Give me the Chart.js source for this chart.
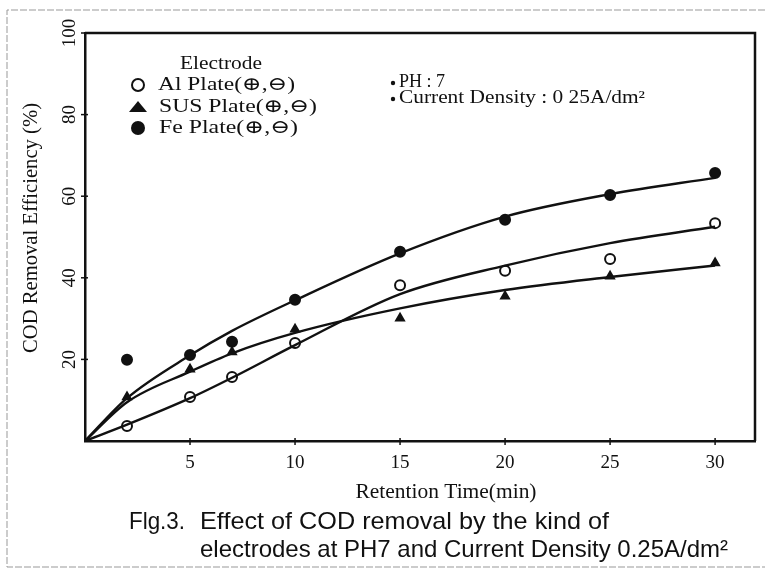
<!DOCTYPE html>
<html><head><meta charset="utf-8">
<script src="https://cdn.jsdelivr.net/npm/chart.js@4.4.1/dist/chart.umd.min.js"></script>
<style>html,body{margin:0;padding:0;background:#fff;}#wrap{width:765px;height:577px;position:relative;}</style>
</head><body><div id="wrap"><canvas id="c" width="765" height="577"></canvas></div>
<script>
// ---- data ----
const times = [2, 5, 7, 10, 15, 20, 25, 30];
const alValues  = [3.7, 10.8, 15.7, 24.0, 38.2, 41.7, 44.6, 53.4];
const susValues = [10.8, 17.6, 21.8, 27.4, 30.1, 35.5, 40.4, 43.6];
const feValues  = [19.9, 21.1, 24.3, 34.6, 46.4, 54.2, 60.3, 65.7];

// fitted curves
const curveTimes = [0, 2, 5, 7, 10, 15, 20, 25, 30];
const alFit  = [0, 4.0, 10.5, 15.5, 23.5, 36.0, 43.0, 48.5, 52.5];
const susFit = [0, 9.5, 17.0, 21.5, 26.5, 32.5, 37.0, 40.2, 43.0];
const feFit  = [0, 10.5, 21.0, 27.0, 34.5, 46.0, 55.0, 60.5, 64.5];

const xTickValues = [5, 10, 15, 20, 25, 30];
const yTickValues = [20, 40, 60, 80, 100];

const legendTitle = 'Electrode';
const seriesNames = ['Al Plate(⊕,⊖)', 'SUS Plate(⊕,⊖)', 'Fe Plate(⊕,⊖)'];
const conditions = ['PH : 7', 'Current Density : 0 25A/dm²'];
const xTitle = 'Retention Time(min)';
const yTitle = 'COD Removal Efficiency (%)';
const captionLabel = 'Flg.3.';
const captionLines = ['Effect of COD removal by the kind of', 'electrodes at PH7 and Current Density 0.25A/dm²'];

// ---- helpers ----
const INK = '#111';
const SERIF = "'Liberation Serif','DejaVu Serif',serif";
const SANS = "'Liberation Sans','DejaVu Sans',sans-serif";
const pts = (xs, ys) => xs.map((x, i) => ({x: x, y: ys[i]}));

function fitText(ctx, text, x, y, w, font, align) {
  ctx.save();
  ctx.font = font;
  const m = ctx.measureText(text).width;
  ctx.translate(x, y);
  ctx.scale(w / m, 1);
  ctx.textAlign = align || 'left';
  ctx.textBaseline = 'middle';
  ctx.fillText(text, 0, 0);
  ctx.restore();
}

const decor = {
  id: 'decor',
  afterDraw(chart) {
    const ctx = chart.ctx, xs = chart.scales.x, ys = chart.scales.y, a = chart.chartArea;
    ctx.save();
    ctx.fillStyle = INK; ctx.strokeStyle = INK;
    // outer figure frame
    ctx.strokeStyle = '#999'; ctx.lineWidth = 1; ctx.setLineDash([7, 2]);
    ctx.beginPath();
    ctx.moveTo(765, 10); ctx.lineTo(7, 10); ctx.lineTo(7, 567); ctx.lineTo(765, 567);
    ctx.stroke();
    ctx.setLineDash([]);
    // plot box: top and right
    ctx.strokeStyle = INK; ctx.lineWidth = 2.5;
    ctx.beginPath();
    ctx.moveTo(a.left, a.top); ctx.lineTo(a.right, a.top); ctx.lineTo(a.right, a.bottom);
    ctx.stroke();
    // tick marks (crossing the axes)
    ctx.lineWidth = 1.5;
    xTickValues.forEach(v => {
      const p = xs.getPixelForValue(v);
      ctx.beginPath(); ctx.moveTo(p, a.bottom - 3); ctx.lineTo(p, a.bottom + 4); ctx.stroke();
    });
    yTickValues.forEach(v => {
      const p = ys.getPixelForValue(v);
      ctx.beginPath(); ctx.moveTo(a.left - 4, p); ctx.lineTo(a.left + 3, p); ctx.stroke();
    });
    // tick labels
    ctx.font = '19px ' + SERIF;
    ctx.textAlign = 'center'; ctx.textBaseline = 'middle';
    xTickValues.forEach(v => {
      ctx.fillText(String(v), xs.getPixelForValue(v), a.bottom + 22);
    });
    yTickValues.forEach(v => {
      ctx.save();
      ctx.translate(a.left - 15, ys.getPixelForValue(v));
      ctx.rotate(-Math.PI / 2);
      ctx.fillText(String(v), 0, 0);
      ctx.restore();
    });
    // axis titles
    fitText(ctx, xTitle, 446, 493, 181, '20px ' + SERIF, 'center');
    ctx.save();
    ctx.translate(32, 228);
    ctx.rotate(-Math.PI / 2);
    fitText(ctx, yTitle, 0, 0, 250, '20px ' + SERIF, 'center');
    ctx.restore();
    // legend
    fitText(ctx, legendTitle, 180, 64, 82, '19px ' + SERIF, 'left');
    ctx.lineWidth = 2;
    ctx.beginPath(); ctx.arc(138, 85, 6, 0, Math.PI * 2); ctx.stroke();
    ctx.beginPath(); ctx.moveTo(138, 101); ctx.lineTo(147, 112); ctx.lineTo(129, 112); ctx.closePath(); ctx.fill();
    ctx.beginPath(); ctx.arc(138, 128, 7, 0, Math.PI * 2); ctx.fill();
    fitText(ctx, seriesNames[0], 158, 85, 137, '19px ' + SERIF, 'left');
    fitText(ctx, seriesNames[1], 159, 107, 158, '19px ' + SERIF, 'left');
    fitText(ctx, seriesNames[2], 159, 128, 139, '19px ' + SERIF, 'left');
    // conditions
    ctx.beginPath(); ctx.arc(393, 83, 2.2, 0, Math.PI * 2); ctx.fill();
    ctx.beginPath(); ctx.arc(393, 99, 2.2, 0, Math.PI * 2); ctx.fill();
    fitText(ctx, conditions[0], 399, 82, 46, '18px ' + SERIF, 'left');
    fitText(ctx, conditions[1], 399, 98, 246, '18px ' + SERIF, 'left');
    // caption
    fitText(ctx, captionLabel, 129, 522, 56, '24px ' + SANS, 'left');
    fitText(ctx, captionLines[0], 200, 522, 409, '24px ' + SANS, 'left');
    fitText(ctx, captionLines[1], 200, 550, 528, '24px ' + SANS, 'left');
    ctx.restore();
  }
};

const lineStyle = {showLine: true, pointRadius: 0, borderColor: INK, borderWidth: 2.4,
  cubicInterpolationMode: 'monotone', fill: false};
const markStyle = {showLine: false, borderColor: INK, pointBorderWidth: 2};

new Chart(document.getElementById('c'), {
  type: 'scatter',
  data: {
    datasets: [
      Object.assign({label: 'Al fit', data: pts(curveTimes, alFit)}, lineStyle),
      Object.assign({label: 'SUS fit', data: pts(curveTimes, susFit)}, lineStyle),
      Object.assign({label: 'Fe fit', data: pts(curveTimes, feFit)}, lineStyle),
      Object.assign({label: seriesNames[0], data: pts(times, alValues), pointStyle: 'circle',
        pointRadius: 5, backgroundColor: '#fff', pointBackgroundColor: '#fff'}, markStyle),
      Object.assign({label: seriesNames[1], data: pts(times, susValues), pointStyle: 'triangle',
        pointRadius: 4.5, backgroundColor: INK, pointBackgroundColor: INK, pointBorderWidth: 1}, markStyle),
      Object.assign({label: seriesNames[2], data: pts(times, feValues), pointStyle: 'circle',
        pointRadius: 5, backgroundColor: INK, pointBackgroundColor: INK, pointBorderWidth: 1}, markStyle)
    ]
  },
  options: {
    responsive: false, animation: false, devicePixelRatio: 1,
    layout: {padding: {left: 85, right: 10, top: 33, bottom: 136}},
    plugins: {legend: {display: false}, tooltip: {enabled: false}},
    scales: {
      x: {type: 'linear', min: 0, max: 31.9,
        ticks: {display: false}, grid: {display: false, drawTicks: false},
        border: {display: true, color: INK, width: 2.5}},
      y: {type: 'linear', min: 0, max: 100,
        ticks: {display: false}, grid: {display: false, drawTicks: false},
        border: {display: true, color: INK, width: 2.5}}
    }
  },
  plugins: [decor]
});
</script></body></html>
